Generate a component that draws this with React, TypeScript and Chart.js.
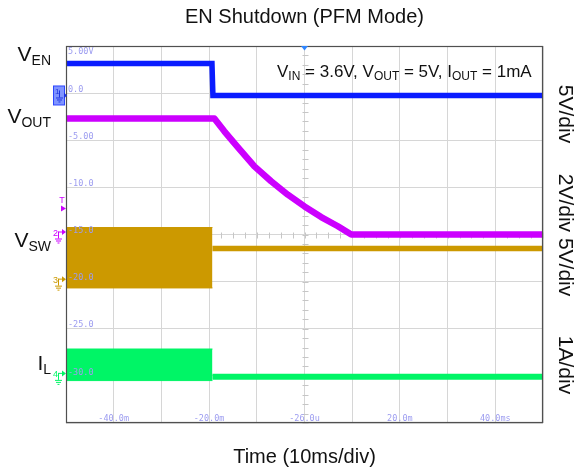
import React, { useEffect, useRef } from 'react';
import { Chart, registerables } from 'chart.js';

Chart.register(...registerables);

// ---------------- text ----------------
const TITLE = 'EN Shutdown (PFM Mode)';
const X_TITLE = 'Time (10ms/div)';

// ---------------- screen axes (oscilloscope graticule) ----------------
const X_MIN = -50; // ms
const X_MAX = 50;
const X_STEP = 10;
const Y_MIN = -35; // screen units (ch1 volts)
const Y_MAX = 5;
const Y_STEP = 5;

const X_TICK_VALUES = [-40, -20, 0, 20, 40];
const X_TICK_LABELS = ['-40.0m', '-20.0m', '-26.0u', '20.0m', '40.0ms'];
const Y_TICK_VALUES = [5, 0, -5, -10, -15, -20, -25, -30];
const Y_TICK_LABELS = ['5.00V', '0.0', '-5.00', '-10.0', '-15.0', '-20.0', '-25.0', '-30.0'];

// ---------------- channels ----------------
const CHANNEL_LABELS = ['1', '2', '3', '4'];
const CHANNEL_GROUND_DIV = [-0.05, -3, -4, -6];
const CHANNEL_UNITS_PER_DIV = [5, 2, 5, 1];
const CHANNEL_COLORS = ['#0a1cff', '#cc00ff', '#cc9900', '#00f566'];

// ---------------- series ----------------
// V_EN (ch1, V)
const EN_TIME = [-50, -19.4, -19.2, 50];
const EN_VOLTS = [3.4, 3.4, 0, 0];

// V_OUT (ch2, V)
const VOUT_TIME = [-50, -18.9, -16.8, -14.0, -10.5, -7.0, -3.5, 0, 3.5, 7.0, 9.8, 50];
const VOUT_VOLTS = [4.92, 4.92, 4.38, 3.71, 2.89, 2.26, 1.69, 1.19, 0.74, 0.35, 0, 0];

// V_SW (ch3, V): switching envelope, then idle level
const VSW_ON_TIME = [-50, -19.3];
const VSW_ON_HIGH = [5.74, 5.74];
const VSW_ON_LOW = [-0.67, -0.67];
const VSW_OFF_TIME = [-19.3, 50];
const VSW_OFF_VOLTS = [3.51, 3.51];

// I_L (ch4, A): switching envelope, then zero
const IL_ON_TIME = [-50, -19.3];
const IL_ON_HIGH = [0.57, 0.57];
const IL_ON_LOW = [-0.1, -0.1];
const IL_OFF_TIME = [-19.3, 50];
const IL_OFF_AMPS = [-0.02, -0.02];

// trigger level (ch2, V)
const TRIGGER_LEVEL = 1.1;

const FONT = '"Liberation Sans", Arial, Helvetica, sans-serif';
const MONO = '"DejaVu Sans Mono", "Liberation Mono", monospace';

const toScreen = (ch: number, v: number) =>
  (CHANNEL_GROUND_DIV[ch] + v / CHANNEL_UNITS_PER_DIV[ch]) * Y_STEP;
const pts = (ch: number, t: number[], v: number[]) =>
  t.map((tt, i) => ({ x: tt, y: toScreen(ch, v[i]) }));

type Seg = [string, boolean];

function drawRich(
  ctx: CanvasRenderingContext2D,
  x: number,
  y: number,
  segs: Seg[],
  mainSize: number,
  subSize: number,
  subDrop: number,
  align: 'left' | 'right'
) {
  let total = 0;
  const widths: number[] = [];
  for (const [t, sub] of segs) {
    ctx.font = `${sub ? subSize : mainSize}px ${FONT}`;
    const w = ctx.measureText(t).width;
    widths.push(w);
    total += w;
  }
  let cx = align === 'left' ? x : x - total;
  ctx.textAlign = 'left';
  ctx.textBaseline = 'alphabetic';
  segs.forEach(([t, sub], i) => {
    ctx.font = `${sub ? subSize : mainSize}px ${FONT}`;
    ctx.fillText(t, cx, y + (sub ? subDrop : 0));
    cx += widths[i];
  });
}

function drawGround(ctx: CanvasRenderingContext2D, gx: number, gy: number, color: string) {
  ctx.strokeStyle = color;
  ctx.lineWidth = 1;
  ctx.beginPath();
  ctx.moveTo(gx + 0.5, gy - 4);
  ctx.lineTo(gx + 0.5, gy + 3);
  ctx.moveTo(gx - 3, gy + 3.5);
  ctx.lineTo(gx + 4, gy + 3.5);
  ctx.moveTo(gx - 2, gy + 5.5);
  ctx.lineTo(gx + 3, gy + 5.5);
  ctx.moveTo(gx - 0.5, gy + 7.5);
  ctx.lineTo(gx + 1.5, gy + 7.5);
  ctx.stroke();
}

function drawChannelMarker(
  ctx: CanvasRenderingContext2D,
  label: string,
  color: string,
  py: number,
  left: number
) {
  ctx.save();
  ctx.fillStyle = color;
  ctx.font = `9px ${FONT}`;
  ctx.textAlign = 'right';
  ctx.textBaseline = 'middle';
  ctx.fillText(label, left - 8, py);
  ctx.strokeStyle = color;
  ctx.lineWidth = 1;
  ctx.beginPath();
  ctx.moveTo(left - 7.5, py + 3);
  ctx.lineTo(left - 7.5, py - 1.5);
  ctx.lineTo(left - 4, py - 1.5);
  ctx.stroke();
  ctx.beginPath();
  ctx.moveTo(left - 4, py - 4.5);
  ctx.lineTo(left, py - 1.5);
  ctx.lineTo(left - 4, py + 1.5);
  ctx.closePath();
  ctx.fill();
  drawGround(ctx, left - 8, py + 2, color);
  ctx.restore();
}

const scopePlugin = {
  id: 'scopeOverlay',
  beforeDatasetsDraw(chart: any) {
    const { ctx, scales } = chart;
    const x = scales.x;
    const y = scales.y;
    const cx = Math.round(x.getPixelForValue((X_MIN + X_MAX) / 2)) + 0.5;
    const cy = Math.round(y.getPixelForValue((Y_MIN + Y_MAX) / 2)) + 0.5;
    ctx.save();
    ctx.strokeStyle = '#c6c6c6';
    ctx.lineWidth = 1;
    ctx.beginPath();
    for (let v = X_MIN; v <= X_MAX; v += X_STEP / 4) {
      const px = Math.round(x.getPixelForValue(v)) + 0.5;
      ctx.moveTo(px, cy - 3);
      ctx.lineTo(px, cy + 3);
    }
    for (let v = Y_MIN; v <= Y_MAX; v += Y_STEP / 5) {
      const py = Math.round(y.getPixelForValue(v)) + 0.5;
      ctx.moveTo(cx - 3, py);
      ctx.lineTo(cx + 3, py);
    }
    ctx.stroke();
    ctx.restore();
  },
  afterDatasetsDraw(chart: any) {
    const { ctx, chartArea: a, scales } = chart;
    const x = scales.x;
    const y = scales.y;
    ctx.save();
    // scope tick labels
    ctx.fillStyle = '#9c9cf0';
    ctx.font = `8.5px ${MONO}`;
    ctx.textAlign = 'left';
    ctx.textBaseline = 'middle';
    Y_TICK_VALUES.forEach((v, i) => {
      const py = y.getPixelForValue(v);
      const ty = Math.max(py - 3.5, a.top + 5.5);
      ctx.fillText(Y_TICK_LABELS[i], a.left + 2, ty);
    });
    ctx.textAlign = 'center';
    X_TICK_VALUES.forEach((v, i) => {
      ctx.fillText(X_TICK_LABELS[i], x.getPixelForValue(v), a.bottom - 4);
    });
    // border
    ctx.strokeStyle = '#505050';
    ctx.lineWidth = 1.2;
    ctx.strokeRect(a.left + 0.5, a.top + 0.5, a.right - a.left - 1, a.bottom - a.top - 1);
    // trigger position marker (top)
    const tx = x.getPixelForValue(0);
    ctx.fillStyle = '#2f86ff';
    ctx.beginPath();
    ctx.moveTo(tx - 3.5, a.top);
    ctx.lineTo(tx + 3.5, a.top);
    ctx.lineTo(tx, a.top + 4.5);
    ctx.closePath();
    ctx.fill();
    ctx.restore();
  },
  afterDraw(chart: any) {
    const { ctx, chartArea: a, scales } = chart;
    const y = scales.y;
    const midX = (a.left + a.right) / 2;
    ctx.save();
    ctx.fillStyle = '#111';
    ctx.textAlign = 'center';
    ctx.textBaseline = 'alphabetic';
    ctx.font = `20px ${FONT}`;
    ctx.fillText(TITLE, midX, 23);
    ctx.fillText(X_TITLE, midX, 463);

    // left signal names
    drawRich(ctx, 51, 61, [['V', false], ['EN', true]], 21, 14, 4, 'right');
    drawRich(ctx, 51, 123, [['V', false], ['OUT', true]], 21, 14, 4, 'right');
    drawRich(ctx, 51, 247, [['V', false], ['SW', true]], 21, 14, 4, 'right');
    drawRich(ctx, 51, 370, [['I', false], ['L', true]], 21, 14, 4, 'right');

    // conditions
    drawRich(
      ctx,
      277,
      77,
      [
        ['V', false], ['IN', true], [' = 3.6V, V', false], ['OUT', true],
        [' = 5V, I', false], ['OUT', true], [' = 1mA', false],
      ],
      17,
      12,
      3,
      'left'
    );

    // right scale labels (rotated)
    const rot: [string, number][] = [
      ['5V/div', 114],
      ['2V/div 5V/div', 235],
      ['1A/div', 365],
    ];
    ctx.font = `21px ${FONT}`;
    ctx.textAlign = 'center';
    ctx.textBaseline = 'middle';
    rot.forEach(([t, cy]) => {
      ctx.save();
      ctx.translate(565, cy);
      ctx.rotate(Math.PI / 2);
      ctx.fillText(t, 0, 0);
      ctx.restore();
    });

    // channel ground markers
    const g1 = y.getPixelForValue(toScreen(0, 0));
    ctx.fillStyle = '#7f94ff';
    ctx.strokeStyle = '#2c46ff';
    ctx.lineWidth = 1;
    ctx.fillRect(53.5, g1 - 9.5, 11, 19);
    ctx.strokeRect(53.5, g1 - 9.5, 11, 19);
    ctx.fillStyle = '#1f35e0';
    ctx.font = `8px ${FONT}`;
    ctx.textAlign = 'left';
    ctx.fillText(CHANNEL_LABELS[0], 55, g1 - 4);
    drawGround(ctx, 59, g1 - 1, '#1f35e0');
    ctx.beginPath();
    ctx.moveTo(a.left - 2, g1 - 3);
    ctx.lineTo(a.left + 1, g1);
    ctx.lineTo(a.left - 2, g1 + 3);
    ctx.closePath();
    ctx.fill();

    for (let ch = 1; ch < 4; ch++) {
      drawChannelMarker(ctx, CHANNEL_LABELS[ch], CHANNEL_COLORS[ch], y.getPixelForValue(toScreen(ch, 0)) - 1, a.left);
    }

    // trigger level marker
    const tp = y.getPixelForValue(toScreen(1, TRIGGER_LEVEL));
    ctx.fillStyle = CHANNEL_COLORS[1];
    ctx.font = `9px ${FONT}`;
    ctx.textAlign = 'center';
    ctx.textBaseline = 'middle';
    ctx.fillText('T', a.left - 4, tp - 8);
    ctx.beginPath();
    ctx.moveTo(a.left - 5, tp - 3);
    ctx.lineTo(a.left, tp);
    ctx.lineTo(a.left - 5, tp + 3);
    ctx.closePath();
    ctx.fill();
    ctx.restore();
  },
};

export default function App() {
  const ref = useRef<HTMLCanvasElement | null>(null);

  useEffect(() => {
    if (!ref.current) return;
    const line = (data: any[], color: string, width: number, extra: any = {}) => ({
      data,
      borderColor: color,
      backgroundColor: color,
      borderWidth: width,
      pointRadius: 0,
      tension: 0,
      fill: false,
      ...extra,
    });
    const chart = new Chart(ref.current, {
      type: 'line',
      data: {
        datasets: [
          line(pts(0, EN_TIME, EN_VOLTS), CHANNEL_COLORS[0], 5.5),
          line(pts(1, VOUT_TIME, VOUT_VOLTS), CHANNEL_COLORS[1], 6.5, { borderJoinStyle: 'round' }),
          line(pts(2, VSW_ON_TIME, VSW_ON_HIGH), CHANNEL_COLORS[2], 1),
          line(pts(2, VSW_ON_TIME, VSW_ON_LOW), CHANNEL_COLORS[2], 1, { fill: '-1' }),
          line(pts(2, VSW_OFF_TIME, VSW_OFF_VOLTS), CHANNEL_COLORS[2], 5.5),
          line(pts(3, IL_ON_TIME, IL_ON_HIGH), CHANNEL_COLORS[3], 1),
          line(pts(3, IL_ON_TIME, IL_ON_LOW), CHANNEL_COLORS[3], 1, { fill: '-1' }),
          line(pts(3, IL_OFF_TIME, IL_OFF_AMPS), CHANNEL_COLORS[3], 6),
        ],
      },
      options: {
        responsive: false,
        animation: false,
        events: [],
        parsing: false as any,
        layout: { padding: { left: 66, right: 31, top: 46, bottom: 49 } },
        plugins: {
          legend: { display: false },
          tooltip: { enabled: false },
          title: { display: false },
        },
        scales: {
          x: {
            type: 'linear',
            min: X_MIN,
            max: X_MAX,
            ticks: { stepSize: X_STEP, display: false },
            grid: { color: '#d6d6d6', lineWidth: 1, drawTicks: false },
            border: { display: false },
          },
          y: {
            type: 'linear',
            min: Y_MIN,
            max: Y_MAX,
            ticks: { stepSize: Y_STEP, display: false },
            grid: { color: '#d6d6d6', lineWidth: 1, drawTicks: false },
            border: { display: false },
          },
        },
      },
      plugins: [scopePlugin],
    });
    return () => chart.destroy();
  }, []);

  return (
    <div style={{ position: 'absolute', left: 0, top: 0, width: 574, height: 472 }}>
      <canvas ref={ref} width={574} height={472} style={{ display: 'block', width: 574, height: 472 }} />
    </div>
  );
}
